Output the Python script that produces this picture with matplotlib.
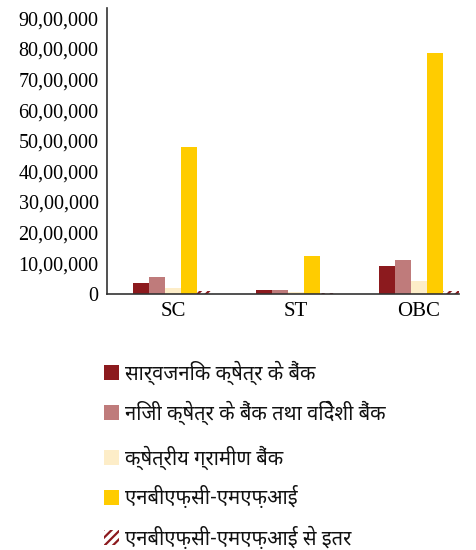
import matplotlib
matplotlib.use("Agg")
import matplotlib.pyplot as plt
from matplotlib.patches import Rectangle
import numpy as np

categories = ["SC", "ST", "OBC"]
series_names = [
    "सार्वजनिक क्षेत्र के बैंक",
    "निजी क्षेत्र के बैंक तथा विदेशी बैंक",
    "क्षेत्रीय ग्रामीण बैंक",
    "एनबीएफ़सी-एमएफ़आई",
    "एनबीएफ़सी-एमएफ़आई से इतर",
]
public_sector = [350000, 140000, 900000]
private_foreign = [570000, 140000, 1100000]
regional_rural = [180000, 70000, 430000]
nbfc_mfi = [4790000, 1230000, 7860000]
non_nbfc_mfi = [110000, 30000, 110000]
y_ticks = [0, 1000000, 2000000, 3000000, 4000000, 5000000, 6000000, 7000000, 8000000, 9000000]
y_tick_labels = ["0", "10,00,000", "20,00,000", "30,00,000", "40,00,000", "50,00,000",
                 "60,00,000", "70,00,000", "80,00,000", "90,00,000"]

series = [public_sector, private_foreign, regional_rural, nbfc_mfi, non_nbfc_mfi]
colors = ["#8c1a1e", "#bf7b7b", "#fdedc8", "#ffcc00", "white"]
hatches = [None, None, None, None, "////"]
hatch_red = "#8c1a1e"

plt.rcParams["hatch.linewidth"] = 1.6

deva = ["Noto Sans Devanagari", "Lohit Devanagari", "FreeSans", "Noto Sans", "DejaVu Sans"]
serif = ["Liberation Serif", "DejaVu Serif"]

fig = plt.figure(figsize=(4.76, 5.5), dpi=100)
ax = fig.add_axes([107 / 476, 1 - 294 / 550, (459 - 107) / 476, (294 - 8) / 550])

x = np.arange(len(categories))
w = 0.13
for i, (vals, c, h) in enumerate(zip(series, colors, hatches)):
    ax.bar(x + (i - 2) * w, vals, width=w, facecolor=c, hatch=h,
           edgecolor=hatch_red if h else c, linewidth=0)

ax.set_xlim(-0.325 - 0.211, 2.325)
ax.set_ylim(0, 9330000)
ax.set_yticks(y_ticks)
ax.set_yticklabels(y_tick_labels, fontfamily=serif, fontsize=14.5)
ax.set_xticks(x)
ax.set_xticklabels(categories, fontfamily=serif, fontsize=15)
ax.tick_params(axis="both", length=0)
ax.tick_params(axis="y", pad=6)
ax.tick_params(axis="x", pad=6)
for s in ["top", "right"]:
    ax.spines[s].set_visible(False)
ax.spines["left"].set_color("#333333")
ax.spines["bottom"].set_color("#333333")
ax.spines["left"].set_linewidth(1.2)
ax.spines["bottom"].set_linewidth(1.2)

# legend drawn as swatches with labels, in pixel positions of the figure
row_y = [373, 413, 458, 498, 538]
for yy, name, c, h in zip(row_y, series_names, colors, hatches):
    fig.add_artist(Rectangle((104 / 476, 1 - (yy + 7) / 550), 15 / 476, 15 / 550,
                             transform=fig.transFigure, facecolor=c, hatch=h,
                             edgecolor=hatch_red if h else c, linewidth=0))
    fig.text(125 / 476, 1 - yy / 550, name, fontfamily=deva, fontsize=14.5,
             va="center", ha="left", color="#111111")

fig.savefig("out.png", dpi=100)
